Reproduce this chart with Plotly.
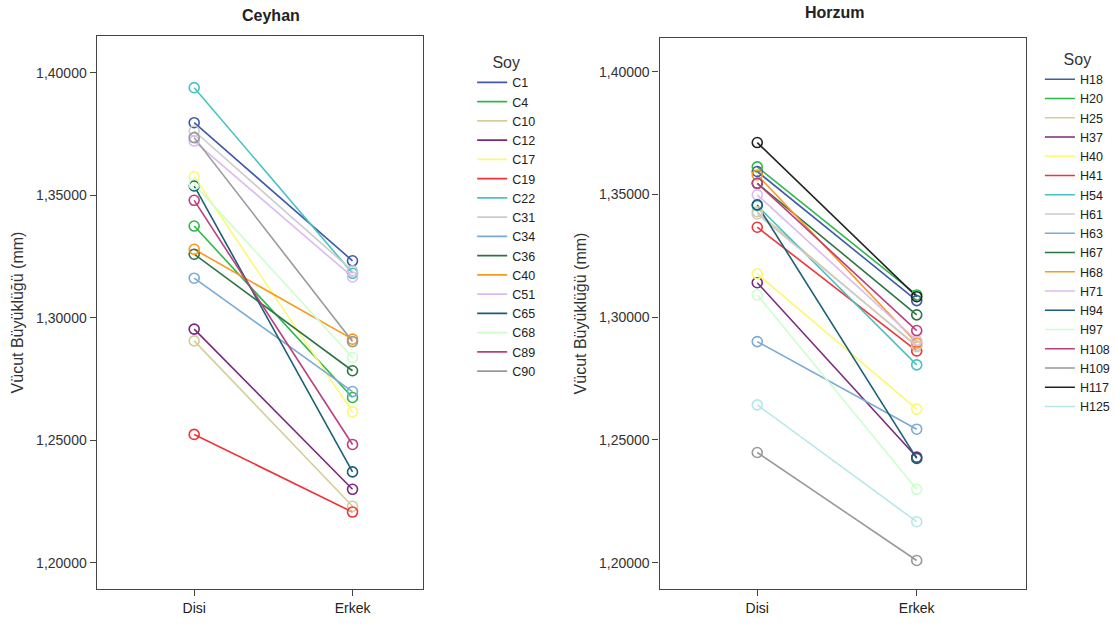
import plotly.graph_objects as go

categories = ["Disi", "Erkek"]

# Ceyhan
ceyhan_names = ["C1", "C4", "C10", "C12", "C17", "C19", "C22", "C31", "C34", "C36",
                "C40", "C51", "C65", "C68", "C89", "C90"]
ceyhan_disi = [1.3797, 1.3375, 1.2906, 1.2954, 1.3576, 1.2524, 1.3940, 1.3763, 1.3162, 1.3260,
               1.3280, 1.3722, 1.3539, 1.3545, 1.3480, 1.3736]
ceyhan_erkek = [1.3233, 1.2675, 1.2231, 1.2300, 1.2616, 1.2207, 1.3182, 1.3192, 1.2699, 1.2784,
                1.2913, 1.3167, 1.2371, 1.2838, 1.2483, 1.2903]

# Horzum
horzum_names = ["H18", "H20", "H25", "H37", "H40", "H41", "H54", "H61", "H63", "H67",
                "H68", "H71", "H94", "H97", "H108", "H109", "H117", "H125"]
horzum_disi = [1.3594, 1.3613, 1.3430, 1.3141, 1.3177, 1.3367, 1.3455, 1.3421, 1.2901, 1.3546,
               1.3580, 1.3499, 1.3458, 1.3091, 1.3546, 1.2449, 1.3712, 1.2643]
horzum_erkek = [1.3068, 1.3091, 1.2880, 1.2430, 1.2626, 1.2863, 1.2806, 1.2885, 1.2544, 1.3010,
                1.2895, 1.2905, 1.2425, 1.2299, 1.2946, 1.2009, 1.3084, 1.2167]

palette = ["#3E58AC", "#2EB848", "#D3CE97", "#7C287D", "#FBF873", "#EF3338", "#48C2C5",
           "#CCCCCC", "#7AAAD5", "#2D7445", "#F8981D", "#DDBAF1", "#1A5F76", "#CCFFCC",
           "#BB3F7F", "#999999", "#222222", "#B6E7E8"]
ceyhan_colors = palette[:16]
horzum_colors = palette[:18]

FONT = "Liberation Sans"

fig = go.Figure()

def add_series(names, disi, erkek, colors, xa, ya, legend):
    for n, d, e, c in zip(names, disi, erkek, colors):
        fig.add_trace(go.Scatter(
            x=[0, 1], y=[d, e], mode="lines", name=n,
            line=dict(color=c, width=1.6), xaxis=xa, yaxis=ya, legend=legend,
            legendgroup=legend + n, hoverinfo="skip"))
    for n, d, e, c in zip(names, disi, erkek, colors):
        fig.add_trace(go.Scatter(
            x=[0, 1], y=[d, e], mode="markers", name=n, showlegend=False,
            marker=dict(symbol="circle-open", size=10, color=c, line=dict(width=1.6)),
            xaxis=xa, yaxis=ya, legendgroup=legend + n))

add_series(ceyhan_names, ceyhan_disi, ceyhan_erkek, ceyhan_colors, "x", "y", "legend")
add_series(horzum_names, horzum_disi, horzum_erkek, horzum_colors, "x2", "y2", "legend2")

yrange = [1.18928, 1.41381]
axis_common = dict(showline=True, linecolor="#444444", linewidth=1.3, mirror=True,
                   showgrid=False, zeroline=False, ticks="outside", ticklen=6,
                   tickcolor="#444444")
xtickfont = dict(family=FONT, size=14, color="#222222")
ytickfont = dict(family=FONT, size=14, color="#333333")
ytitle = dict(text="Vücut Büyüklüğü (mm)", standoff=8,
              font=dict(family=FONT, size=16, color="#333333"))

fig.update_layout(
    width=1115, height=626,
    margin=dict(l=0, r=0, t=0, b=0),
    paper_bgcolor="white", plot_bgcolor="white",
    separators=",.",
    showlegend=True,
    xaxis=dict(domain=[0.087, 0.381], range=[-0.616, 1.447], tickvals=[0, 1],
               ticktext=categories, anchor="y", tickfont=xtickfont, **axis_common),
    yaxis=dict(domain=[0.0591, 0.9425], range=[1.18928, 1.4151],
               tickvals=[1.2, 1.25, 1.3, 1.35, 1.4],
               tickformat=".5f", anchor="x", tickfont=ytickfont, title=ytitle, **axis_common),
    xaxis2=dict(domain=[0.5937, 0.9238], range=[-0.6125, 1.6875], tickvals=[0, 1],
                ticktext=categories, anchor="y2", tickfont=xtickfont, **axis_common),
    yaxis2=dict(domain=[0.0591, 0.9393], range=yrange,
                tickvals=[1.2, 1.25, 1.3, 1.35, 1.4],
                tickformat=".5f", anchor="x2", tickfont=ytickfont, title=ytitle, **axis_common),
    legend=dict(x=0.425, y=0.925, xanchor="left", yanchor="top",
                title=dict(text="Soy", side="top center",
                           font=dict(family=FONT, size=16, color="#333333")),
                font=dict(family=FONT, size=12.5, color="#222222"),
                itemwidth=30, tracegroupgap=0, bgcolor="rgba(0,0,0,0)"),
    legend2=dict(x=0.936, y=0.93, xanchor="left", yanchor="top",
                 title=dict(text="Soy", side="top center",
                            font=dict(family=FONT, size=16, color="#333333")),
                 font=dict(family=FONT, size=12.5, color="#222222"),
                 itemwidth=30, tracegroupgap=0, bgcolor="rgba(0,0,0,0)"),
    annotations=[
        dict(text="<b>Ceyhan</b>", x=272 / 1115, y=1 - 15 / 626, xref="paper", yref="paper",
             xanchor="center", yanchor="middle",
             showarrow=False, font=dict(family=FONT, size=16, color="#222222")),
        dict(text="<b>Horzum</b>", x=838 / 1115, y=1 - 12 / 626, xref="paper", yref="paper",
             xanchor="center", yanchor="middle",
             showarrow=False, font=dict(family=FONT, size=16, color="#222222")),
    ],
)

fig.write_html("out.html")
